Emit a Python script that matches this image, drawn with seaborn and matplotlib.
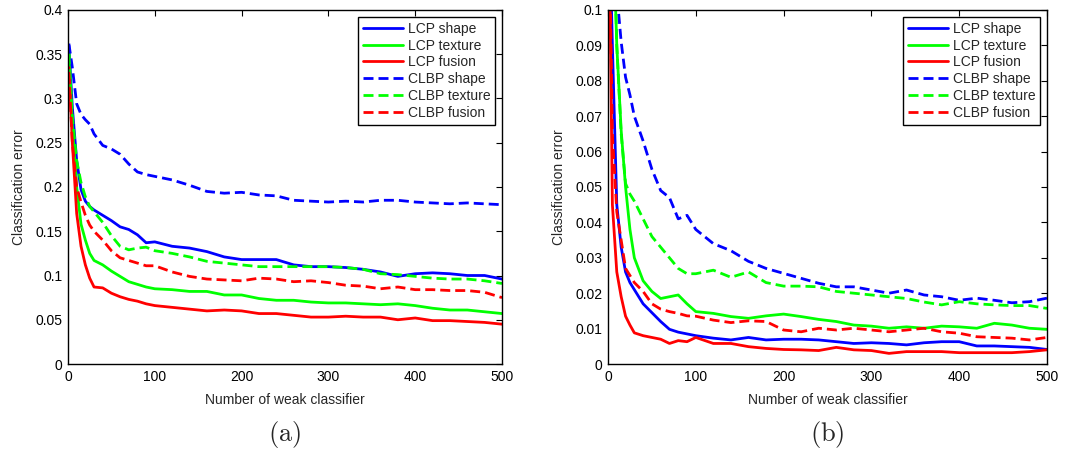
import numpy as np
import pandas as pd
import matplotlib
matplotlib.use("Agg")
import matplotlib.pyplot as plt
import seaborn as sns

# number of weak classifiers (sample points)
x_steps = [1, 5, 10, 15, 20, 25, 30, 40, 50, 60, 70, 80, 90, 100, 120, 140, 160, 180, 200,
           220, 240, 260, 280, 300, 320, 340, 360, 380, 400, 420, 440, 460, 480, 500]

# panel (a)
a_lcp_shape = [0.360, 0.290, 0.230, 0.197, 0.184, 0.178, 0.174, 0.168, 0.162, 0.155, 0.152, 0.146,
               0.137, 0.138, 0.133, 0.131, 0.127, 0.121, 0.118, 0.118, 0.118, 0.112, 0.110, 0.110,
               0.109, 0.107, 0.104, 0.099, 0.102, 0.103, 0.102, 0.100, 0.100, 0.096]
a_lcp_texture = [0.355, 0.270, 0.200, 0.158, 0.140, 0.125, 0.117, 0.112, 0.105, 0.099, 0.093, 0.090,
                 0.087, 0.085, 0.084, 0.082, 0.082, 0.078, 0.078, 0.074, 0.072, 0.072, 0.070, 0.069,
                 0.069, 0.068, 0.067, 0.068, 0.066, 0.063, 0.061, 0.061, 0.059, 0.057]
a_lcp_fusion = [0.335, 0.250, 0.170, 0.133, 0.112, 0.097, 0.087, 0.086, 0.080, 0.076, 0.073, 0.071,
                0.068, 0.066, 0.064, 0.062, 0.060, 0.061, 0.060, 0.057, 0.057, 0.055, 0.053, 0.053,
                0.054, 0.053, 0.053, 0.050, 0.052, 0.049, 0.049, 0.048, 0.047, 0.045]
a_clbp_shape = [0.362, 0.335, 0.294, 0.282, 0.276, 0.271, 0.260, 0.247, 0.243, 0.237, 0.226, 0.217,
                0.214, 0.212, 0.208, 0.202, 0.195, 0.193, 0.194, 0.191, 0.190, 0.185, 0.184, 0.183,
                0.184, 0.183, 0.185, 0.185, 0.183, 0.182, 0.181, 0.182, 0.181, 0.180]
a_clbp_texture = [0.350, 0.280, 0.230, 0.205, 0.189, 0.178, 0.172, 0.160, 0.145, 0.133, 0.129, 0.131,
                  0.132, 0.128, 0.125, 0.121, 0.116, 0.114, 0.112, 0.110, 0.110, 0.110, 0.110, 0.110,
                  0.109, 0.107, 0.102, 0.101, 0.099, 0.097, 0.096, 0.096, 0.094, 0.091]
a_clbp_fusion = [0.330, 0.250, 0.200, 0.183, 0.168, 0.157, 0.150, 0.140, 0.128, 0.120, 0.117, 0.114,
                 0.111, 0.111, 0.104, 0.099, 0.096, 0.095, 0.094, 0.097, 0.096, 0.093, 0.094, 0.092,
                 0.089, 0.088, 0.085, 0.087, 0.084, 0.084, 0.083, 0.083, 0.081, 0.075]

# panel (b)
b_lcp_shape = [0.130, 0.090, 0.045, 0.033, 0.026, 0.023, 0.021, 0.017, 0.0145, 0.012, 0.0098, 0.0090,
               0.0085, 0.0080, 0.0073, 0.0068, 0.0075, 0.0068, 0.0070, 0.0070, 0.0068, 0.0063, 0.0058,
               0.0060, 0.0058, 0.0054, 0.0060, 0.0063, 0.0063, 0.0051, 0.0051, 0.0049, 0.0047, 0.0041]
b_lcp_texture = [0.200, 0.130, 0.090, 0.066, 0.050, 0.038, 0.030, 0.0235, 0.0205, 0.0185, 0.019, 0.0195,
                 0.017, 0.0148, 0.0143, 0.0134, 0.0129, 0.0136, 0.0141, 0.0134, 0.0126, 0.0120, 0.0110,
                 0.0107, 0.0101, 0.0105, 0.0101, 0.0107, 0.0105, 0.0101, 0.0115, 0.0110, 0.0101, 0.0098]
b_lcp_fusion = [0.130, 0.045, 0.026, 0.019, 0.0135, 0.011, 0.0088, 0.0080, 0.0075, 0.0070, 0.0058, 0.0066,
                0.0063, 0.0075, 0.0058, 0.0058, 0.0049, 0.0044, 0.0041, 0.0040, 0.0038, 0.0047, 0.0040,
                0.0038, 0.0030, 0.0035, 0.0035, 0.0035, 0.0032, 0.0032, 0.0032, 0.0032, 0.0035, 0.0040]
b_clbp_shape = [0.300, 0.160, 0.105, 0.091, 0.081, 0.076, 0.070, 0.063, 0.055, 0.049, 0.047, 0.041,
                0.042, 0.038, 0.034, 0.032, 0.029, 0.027, 0.0256, 0.0242, 0.0228, 0.0218, 0.0218,
                0.0209, 0.020, 0.0209, 0.0195, 0.019, 0.018, 0.0186, 0.018, 0.0173, 0.0176, 0.0186]
b_clbp_texture = [0.250, 0.140, 0.090, 0.065, 0.051, 0.048, 0.046, 0.041, 0.036, 0.033, 0.030, 0.027,
                  0.0255, 0.0255, 0.0265, 0.0245, 0.026, 0.023, 0.022, 0.022, 0.0218, 0.0205, 0.020,
                  0.0195, 0.019, 0.0185, 0.0175, 0.0167, 0.0176, 0.017, 0.0167, 0.0165, 0.0165, 0.0157]
b_clbp_fusion = [0.130, 0.065, 0.043, 0.035, 0.027, 0.025, 0.023, 0.0205, 0.017, 0.0155, 0.0148, 0.0143,
                 0.0136, 0.0135, 0.0124, 0.0117, 0.0122, 0.012, 0.0096, 0.0091, 0.0101, 0.0096, 0.0101,
                 0.0096, 0.0091, 0.0096, 0.0101, 0.0091, 0.0087, 0.0077, 0.0075, 0.0073, 0.0068, 0.0075]

series_names = ["LCP shape", "LCP texture", "LCP fusion", "CLBP shape", "CLBP texture", "CLBP fusion"]
colors = ["#0000ff", "#00ff00", "#ff0000", "#0000ff", "#00ff00", "#ff0000"]
dashed = [False, False, False, True, True, True]

panels = [
    ([a_lcp_shape, a_lcp_texture, a_lcp_fusion, a_clbp_shape, a_clbp_texture, a_clbp_fusion],
     0.4, 0.05, "(a)"),
    ([b_lcp_shape, b_lcp_texture, b_lcp_fusion, b_clbp_shape, b_clbp_texture, b_clbp_fusion],
     0.1, 0.01, "(b)"),
]

sns.set_style("white")
plt.rcParams["font.family"] = ["Liberation Sans", "DejaVu Sans"]
plt.rcParams["mathtext.fontset"] = "cm"

fig = plt.figure(figsize=(10.74, 4.55), dpi=100)
axes_rects = [[68 / 1074, 91 / 455, 434 / 1074, 354 / 455],
              [608 / 1074, 91 / 455, 439 / 1074, 354 / 455]]

for rect, (values, ymax, ystep, tag) in zip(axes_rects, panels):
    ax = fig.add_axes(rect)
    for name, col, dsh, ys in zip(series_names, colors, dashed, values):
        df = pd.DataFrame({"n": x_steps, "err": ys})
        ls = (0, (3.6, 1.8)) if dsh else "-"
        sns.lineplot(data=df, x="n", y="err", ax=ax, color=col, linestyle=ls,
                     linewidth=2.0, label=name)
    ax.set_xlim(0, 500)
    ax.set_ylim(0, ymax)
    ax.set_xticks(np.arange(0, 501, 100))
    yt = np.arange(0, ymax + ystep / 2, ystep)
    ax.set_yticks(yt)
    ax.set_yticklabels(["%g" % round(v, 3) for v in yt])
    ax.tick_params(direction="in", length=4, width=0.8, top=True, right=True,
                   labelsize=10, pad=4, colors="black")
    for sp in ax.spines.values():
        sp.set_color("black")
        sp.set_linewidth(1.0)
    ax.set_xlabel("Number of weak classifier", fontsize=10)
    ax.set_ylabel("Classification error", fontsize=10)
    ax.xaxis.set_label_coords(0.5, -0.083)
    ax.yaxis.set_label_coords(-0.096, 0.5)
    leg = ax.legend(loc="upper right", fontsize=10, handlelength=2.9, handletextpad=0.3,
                    labelspacing=0.2, borderpad=0.35, borderaxespad=0.5,
                    frameon=True, fancybox=False, framealpha=1)
    leg.get_frame().set_edgecolor("black")
    leg.get_frame().set_linewidth(1.0)
    cx = rect[0] + rect[2] / 2
    fig.text(cx, 20 / 455, r"$\mathrm{" + tag + "}$", fontsize=19, ha="center", va="center")

fig.savefig("out.png", dpi=100)
